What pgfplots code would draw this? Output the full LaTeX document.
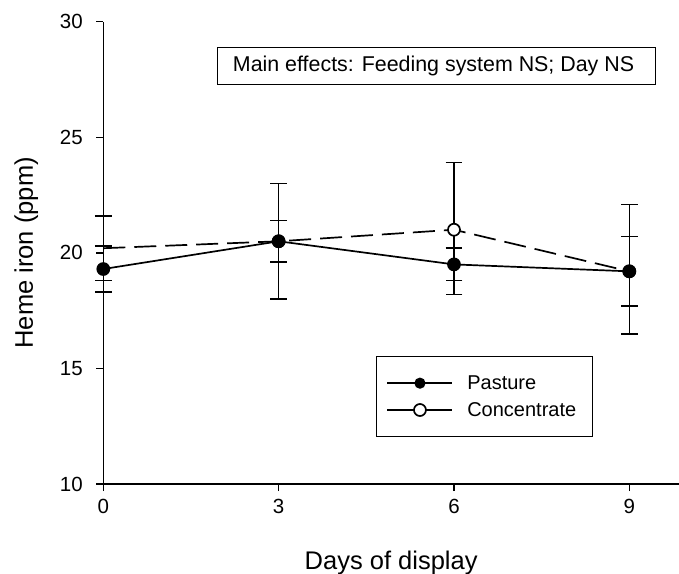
\documentclass[border=0pt]{standalone}
\usepackage{fontspec}
\setmainfont{Liberation Sans}
\usepackage{pgfplots}
\pgfplotsset{compat=1.18}

\begin{document}
\begin{tikzpicture}
\begin{axis}[
    scale only axis,
    width=575.7bp, height=462.3bp,
    xmin=0, xmax=9.85, ymin=10, ymax=30,
    axis x line*=bottom, axis y line*=left,
    axis line style={line width=1.5bp, -},
    xtick={0,3,6,9}, ytick={10,15,20,25,30},
    tick align=outside, major tick length=7bp,
    tick style={line width=1.5bp, black},
    /pgf/number format/assume math mode=true,
    ticklabel style={font=\fontsize{20.5bp}{24bp}\selectfont},
    xticklabel style={yshift=-4.5bp},
    yticklabel style={xshift=-10bp},
    xlabel={Days of display},
    ylabel={Heme iron (ppm)},
    every axis x label/.style={at={(rel axis cs:0.5,0)}, anchor=base, yshift=-85bp, font=\fontsize{25.5bp}{30bp}\selectfont},
    every axis y label/.style={at={(rel axis cs:0,0.5)}, xshift=-70.3bp, rotate=90, anchor=base, font=\fontsize{25.5bp}{30bp}\selectfont},
    clip=false,
    legend style={at={(axis cs:4.666,15.54)}, anchor=north west, draw=black, line width=1.2bp,
        font=\fontsize{20bp}{24bp}\selectfont, inner xsep=10bp, inner ysep=17bp, row sep=7.5bp,
        cells={anchor=west}, /tikz/every odd column/.append style={column sep=12bp}},
    legend image code/.code={\draw[#1] plot coordinates {(0bp,0bp) (32.5bp,0bp) (65bp,0bp)};},
]
% legend images, solid lines for both
\addlegendimage{black, line width=1.7bp, mark=*, mark indices={2}, mark size=4.7bp, mark options={fill=black}}
\addlegendentry{Pasture}
\addlegendimage{black, line width=1.7bp, mark=*, mark indices={2}, mark size=6bp, mark options={fill=white}}
\addlegendentry{Concentrate\rule{4bp}{0pt}}
% Concentrate (drawn first so Pasture sits on top)
\addplot[forget plot, black, line width=1.7bp, dash pattern=on 22bp off 9bp, mark=*, mark indices={2,3,4},
    mark size=6bp, mark options={solid, fill=white, line width=1.7bp},
    error bars/.cd, y dir=both, y explicit,
    error bar style={line width=1.5bp, solid},
    error mark options={rotate=90, mark size=8.3bp, line width=1.5bp, solid}]
    coordinates {
    (0,20.2) += (0,1.4) -= (0,1.4)
    (3,20.5) += (0,0.9) -= (0,0.9)
    (6,21.0) += (0,2.9) -= (0,2.8)
    (9,19.2) += (0,2.9) -= (0,2.7)
};
% Pasture
\addplot[forget plot, black, line width=1.7bp, solid, mark=*, mark size=6bp,
    mark options={solid, fill=black},
    error bars/.cd, y dir=both, y explicit,
    error bar style={line width=1.5bp, solid},
    error mark options={rotate=90, mark size=8.3bp, line width=1.5bp, solid}]
    coordinates {
    (0,19.3) += (0,1.0) -= (0,1.0)
    (3,20.5) += (0,2.5) -= (0,2.5)
    (6,19.5) += (0,0.7) -= (0,0.7)
    (9,19.2) += (0,1.5) -= (0,1.5)
};
\node[draw, line width=1.2bp, inner xsep=15.5bp, minimum height=37bp, inner ysep=0pt,
    font=\fontsize{21.4bp}{25bp}\selectfont] at (axis cs:5.70,28.10)
    {\makebox[407bp][l]{Main effects: Feeding system NS; Day NS}};
\coordinate (bl) at (rel axis cs:0,0);
\coordinate (tr) at (rel axis cs:1,1);
\end{axis}
\pgfresetboundingbox
\path[use as bounding box] ([xshift=-103.3bp,yshift=-90bp]bl) rectangle ([yshift=21.7bp]tr);
\end{tikzpicture}
\end{document}
